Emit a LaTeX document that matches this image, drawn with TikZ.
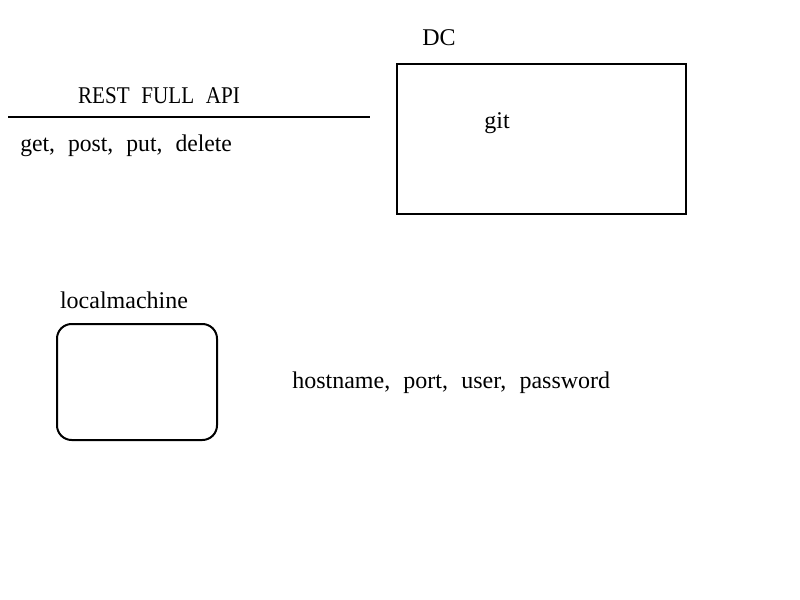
\documentclass[tikz,border=0pt]{standalone}
\usepackage{fontspec}
\setmainfont{Liberation Serif}
\newcommand{\labelfont}{\fontsize{18}{21}\selectfont\spaceskip=0.55em plus 0.1em}

\begin{document}
\begin{tikzpicture}[x=0.75pt,y=-0.75pt,
	txt/.style={font=\labelfont, inner sep=0pt},
	box/.style={draw, line width=1.5pt}]
			\useasboundingbox (0,0) rectangle (800,600);
			% DC with git
			\node[txt] (dclabel) at (439,38) {DC};
			\node[box, minimum width=289*0.75pt, minimum height=150*0.75pt] (dc) at (541.5,139) {};
			\node[txt] (git) at (497,123) {git};

			% rest api
			\node[txt, xscale=0.88] (rest) at (159,96) {REST FULL API};
			\coordinate (la) at (8,117);
			\coordinate (lb) at (370,117);
			\draw[line width=1.5pt] (la) -- (lb);
			\node[txt, anchor=west, xscale=0.985] (verbs) at (20,146) {get, post, put, delete};

			% local machine
			\node[txt] (locallabel) at (124,300) {localmachine};
			\node[box, rounded corners=11pt, minimum width=160*0.75pt, minimum height=116*0.75pt] (local) at (137,382) {};
			\node[txt, anchor=west] (conn) at (292,383) {hostname, port, user, password};
			\end{tikzpicture}
\end{document}
